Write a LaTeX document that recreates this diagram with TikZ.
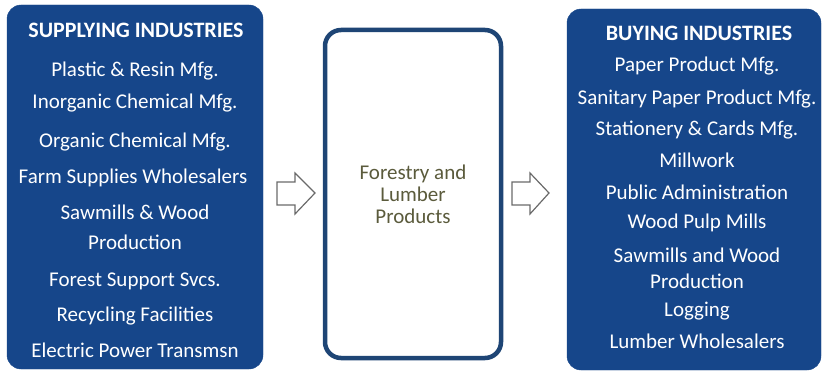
\documentclass[tikz,border=0pt]{standalone}
\usepackage{fontspec}
\setmainfont{Carlito}
\definecolor{boxblue}{HTML}{16468A}
\definecolor{midedge}{HTML}{1E4575}
\definecolor{midtext}{HTML}{5B5B3C}
\definecolor{arrowedge}{HTML}{6A6A6A}
\tikzset{
  bluebox/.style={fill=boxblue, draw=boxblue, rounded corners=14pt},
  head/.style={text=white, font=\fontsize{22}{24}\selectfont\bfseries, inner sep=0pt},
  item/.style={text=white, font=\fontsize{21}{24}\selectfont, inner sep=0pt},
  midbox/.style={draw=midedge, line width=4.5pt, fill=white, rounded corners=16pt},
  midlabel/.style={text=midtext, font=\fontsize{21}{22}\selectfont, align=center, inner sep=0pt},
  blockarrow/.style={draw=arrowedge, fill=white, line width=1.2pt, line join=miter}
}
\begin{document}
\begin{tikzpicture}[x=1pt,y=-1pt]
\useasboundingbox (0,0) rectangle (825,377);
% left box
\draw[bluebox] (7,5) rectangle (263,369);
\node[head] (sh) at (136,30) {SUPPLYING INDUSTRIES};
\node[item] (s1) at (135,71) {Plastic \& Resin Mfg.};
\node[item] (s2) at (135,103) {Inorganic Chemical Mfg.};
\node[item] (s3) at (135,142) {Organic Chemical Mfg.};
\node[item] (s4) at (133,178) {Farm Supplies Wholesalers};
\node[item] (s5) at (135,212) {Sawmills \& Wood};
\node[item] (s5b) at (135,242) {Production};
\node[item] (s6) at (135,281) {Forest Support Svcs.};
\node[item] (s7) at (135,316) {Recycling Facilities};
\node[item] (s8) at (135,350) {Electric Power Transmsn};
% middle box
\draw[midbox] (325,30) rectangle (501,358);
\node[midlabel] (mid) at (413,194) {Forestry and\\Lumber\\Products};
% right box
\draw[bluebox] (567,9) rectangle (821,370);
\node[head] (bh) at (699,33) {BUYING INDUSTRIES};
\node[item] (b1) at (697,66) {Paper Product Mfg.};
\node[item] (b2) at (697,99) {Sanitary Paper Product Mfg.};
\node[item] (b3) at (697,130) {Stationery \& Cards Mfg.};
\node[item] (b4) at (697,160) {Millwork};
\node[item] (b5) at (697,192) {Public Administration};
\node[item] (b6) at (697,223) {Wood Pulp Mills};
\node[item] (b7) at (697,255) {Sawmills and Wood};
\node[item] (b7b) at (697,281) {Production};
\node[item] (b8) at (697,311) {Logging};
\node[item] (b9) at (697,341) {Lumber Wholesalers};
% arrows
\draw[blockarrow] (277,182) -- (295,182) -- (295,173) -- (315,193) -- (295,214) -- (295,205) -- (277,205) -- cycle;
\draw[blockarrow] (512,182) -- (530,182) -- (530,173) -- (549,193) -- (530,214) -- (530,205) -- (512,205) -- cycle;
\end{tikzpicture}
\end{document}
